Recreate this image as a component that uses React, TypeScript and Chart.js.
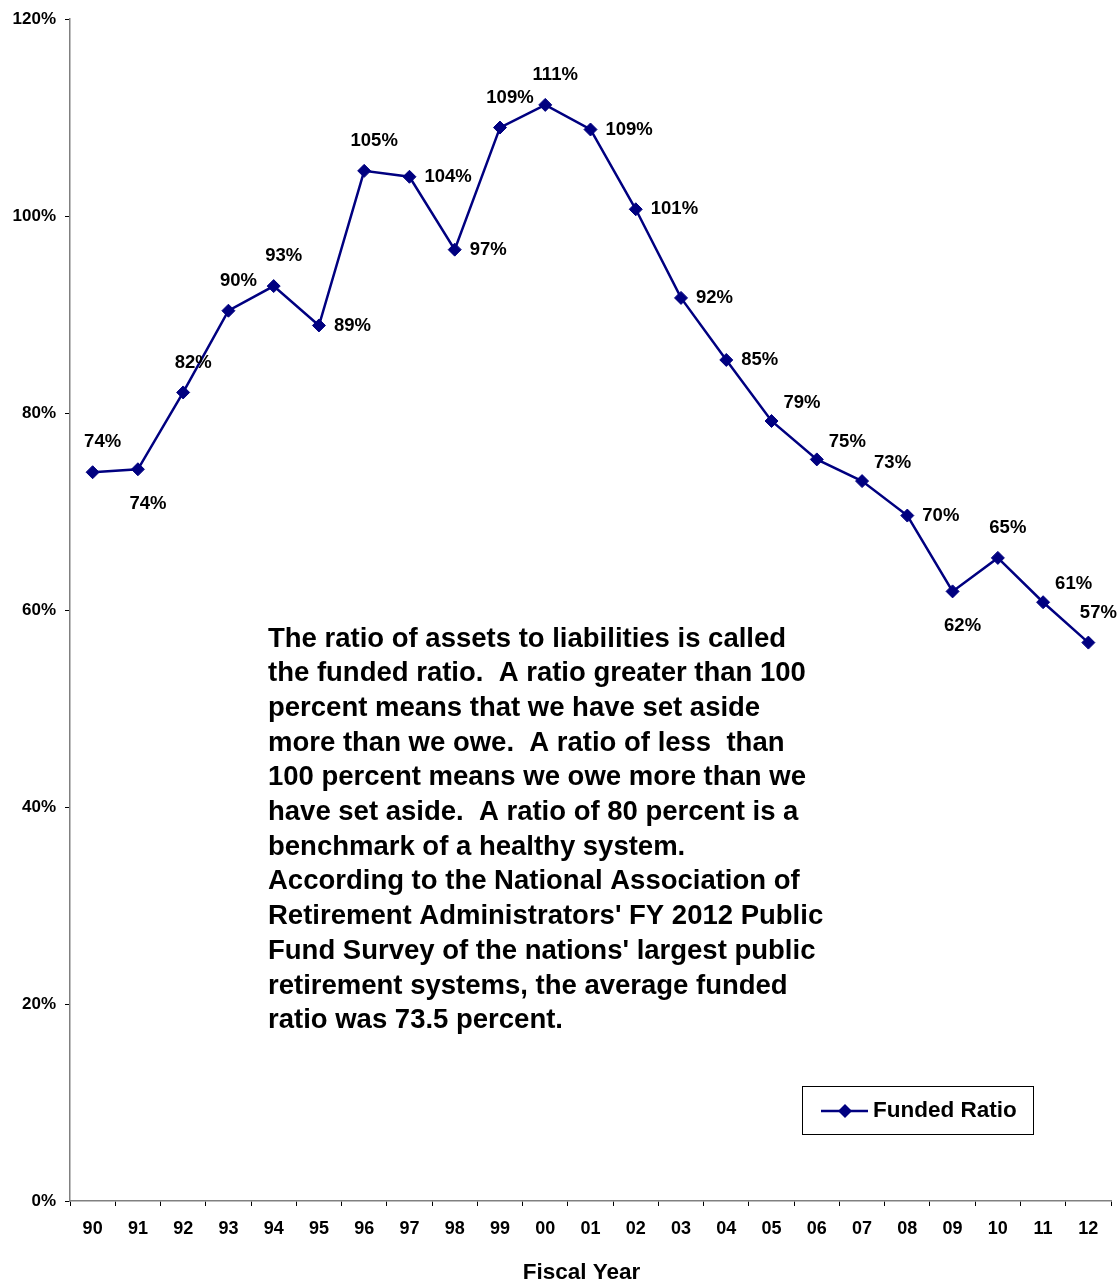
import React, { useEffect, useRef } from "react";
import { Chart, registerables } from "chart.js";

Chart.register(...registerables);

const categories = ["90","91","92","93","94","95","96","97","98","99","00","01","02","03","04","05","06","07","08","09","10","11","12"];
const fundedRatio = [74.0,74.3,82.1,90.4,92.9,88.9,104.6,104.0,96.6,109.0,111.3,108.8,100.7,91.7,85.4,79.2,75.3,73.1,69.6,61.9,65.3,60.8,56.7];
const labelPlacement = ["t","b","t","t","t","r","t","r","r","t","t","r","r","r","r","tr","tr","tr","r","b","t","tr","t"];
const seriesName = "Funded Ratio";
const xAxisTitle = "Fiscal Year";
const yMin = 0;
const yMax = 120;
const yStep = 20;
const noteLines = [
  "The ratio of assets to liabilities is called",
  "the funded ratio.  A ratio greater than 100",
  "percent means that we have set aside",
  "more than we owe.  A ratio of less  than",
  "100 percent means we owe more than we",
  "have set aside.  A ratio of 80 percent is a",
  "benchmark of a healthy system.",
  "According to the National Association of",
  "Retirement Administrators' FY 2012 Public",
  "Fund Survey of the nations' largest public",
  "retirement systems, the average funded",
  "ratio was 73.5 percent.",
];

const FONT = '"Liberation Sans", Arial, sans-serif';
const NAVY = "#000080";

const overlayPlugin = {
  id: "overlay",
  afterDatasetsDraw(chart: any) {
    const ctx = chart.ctx;
    const meta = chart.getDatasetMeta(0);
    ctx.save();
    ctx.fillStyle = "#000";
    ctx.font = `bold 18.5px ${FONT}`;
    ctx.textBaseline = "middle";
    meta.data.forEach((pt: any, i: number) => {
      const txt = Math.round(fundedRatio[i]) + "%";
      const p = labelPlacement[i];
      if (p === "t") {
        ctx.textAlign = "center";
        ctx.fillText(txt, pt.x + 10, pt.y - 30);
      } else if (p === "b") {
        ctx.textAlign = "center";
        ctx.fillText(txt, pt.x + 10, pt.y + 35);
      } else if (p === "r") {
        ctx.textAlign = "left";
        ctx.fillText(txt, pt.x + 15, pt.y);
      } else {
        ctx.textAlign = "left";
        ctx.fillText(txt, pt.x + 12, pt.y - 18);
      }
    });
    ctx.restore();
  },
  afterDraw(chart: any) {
    const ctx = chart.ctx;
    const area = chart.chartArea;
    ctx.save();
    // note text
    ctx.fillStyle = "#000";
    ctx.font = `bold 27.5px ${FONT}`;
    ctx.textAlign = "left";
    ctx.textBaseline = "middle";
    noteLines.forEach((line, i) => {
      ctx.fillText(line, 268, 639 + i * 34.7);
    });
    // legend
    const lx = 802, ly = 1086, lw = 231, lh = 48;
    ctx.fillStyle = "#fff";
    ctx.fillRect(lx, ly, lw, lh);
    ctx.strokeStyle = "#000";
    ctx.lineWidth = 1;
    ctx.strokeRect(lx + 0.5, ly + 0.5, lw, lh);
    const cy = ly + lh / 2 + 1;
    ctx.strokeStyle = NAVY;
    ctx.lineWidth = 2.5;
    ctx.beginPath();
    ctx.moveTo(821, cy);
    ctx.lineTo(868, cy);
    ctx.stroke();
    ctx.fillStyle = NAVY;
    ctx.beginPath();
    ctx.moveTo(845, cy - 7);
    ctx.lineTo(852, cy);
    ctx.lineTo(845, cy + 7);
    ctx.lineTo(838, cy);
    ctx.closePath();
    ctx.fill();
    ctx.fillStyle = "#000";
    ctx.font = `bold 22.5px ${FONT}`;
    ctx.textAlign = "left";
    ctx.fillText(seriesName, 873, cy);
    // axis title
    ctx.textAlign = "center";
    ctx.font = `bold 22.5px ${FONT}`;
    ctx.fillText(xAxisTitle, (area.left + area.right) / 2 - 9, 1273);
    ctx.restore();
  },
};

export default function App() {
  const ref = useRef<HTMLCanvasElement | null>(null);
  useEffect(() => {
    if (!ref.current) return;
    const chart = new Chart(ref.current, {
      type: "line",
      data: {
        labels: categories,
        datasets: [
          {
            label: seriesName,
            data: fundedRatio,
            borderColor: NAVY,
            backgroundColor: NAVY,
            borderWidth: 2.5,
            pointStyle: "rectRot",
            pointRadius: 6.5,
            pointBorderWidth: 1,
            pointBackgroundColor: NAVY,
            pointBorderColor: NAVY,
            tension: 0,
            fill: false,
          },
        ],
      },
      options: {
        responsive: false,
        animation: false,
        layout: { padding: { top: 16, right: 9, left: 0, bottom: 0 } },
        plugins: {
          legend: { display: false },
          tooltip: { enabled: false },
          title: { display: false },
        },
        scales: {
          x: {
            type: "category",
            offset: true,
            grid: {
              offset: true,
              drawOnChartArea: false,
              drawTicks: true,
              tickLength: 5,
              color: "#000",
            },
            border: { color: "#808080", width: 1.5 },
            ticks: {
              color: "#000",
              font: { family: FONT, size: 18, weight: "bold" },
              padding: 12,
              maxRotation: 0,
              autoSkip: false,
            },
            afterFit(scale: any) {
              scale.height = 82;
            },
          },
          y: {
            min: yMin,
            max: yMax,
            grid: {
              drawOnChartArea: false,
              drawTicks: true,
              tickLength: 5,
              color: "#000",
            },
            border: { color: "#808080", width: 1.5 },
            ticks: {
              stepSize: yStep,
              color: "#000",
              font: { family: FONT, size: 17, weight: "bold" },
              padding: 9,
              callback: (v: any) => v + "%",
            },
            afterFit(scale: any) {
              scale.width = 70;
            },
          },
        },
      } as any,
      plugins: [overlayPlugin],
    });
    return () => chart.destroy();
  }, []);
  return (
    <div style={{ position: "absolute", left: 0, top: 0, width: 1120, height: 1283, background: "#fff" }}>
      <canvas ref={ref} width={1120} height={1283} style={{ display: "block" }} />
    </div>
  );
}
